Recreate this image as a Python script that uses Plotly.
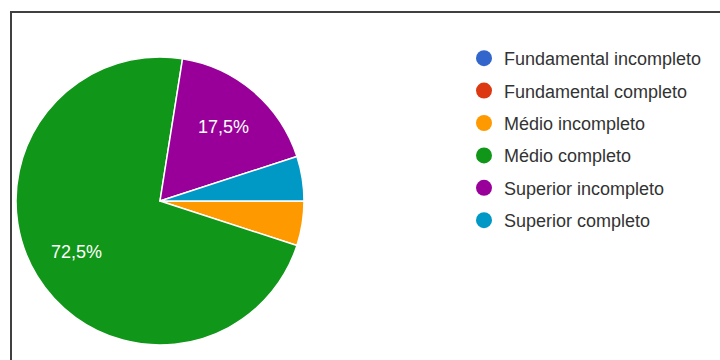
import math
import plotly.graph_objects as go

# Escolaridade dos respondentes
categorias = [
    "Fundamental incompleto",
    "Fundamental completo",
    "Médio incompleto",
    "Médio completo",
    "Superior incompleto",
    "Superior completo",
]
respostas = [0, 0, 2, 29, 7, 2]
cores = ["#3366CC", "#DC3912", "#FF9900", "#109618", "#990099", "#0099C6"]

W, H = 720, 360
cx, cy, r = 160, 201, 144  # pie centre / radius in px
inicio = 90                # first slice starts at 3 o'clock (deg clockwise from 12)
fonte = "Arial, Liberation Sans, sans-serif"

total = sum(respostas)

fig = go.Figure()
fig.add_trace(go.Pie(
    labels=categorias,
    values=respostas,
    textinfo="none",
    marker=dict(colors=cores, line=dict(color="white", width=1.5)),
    sort=False,
    direction="clockwise",
    rotation=inicio,
    showlegend=False,
    hoverinfo="label+percent",
    domain=dict(x=[(cx - r) / W, (cx + r) / W], y=[(H - cy - r) / H, (H - cy + r) / H]),
))

# Percentage labels for the larger slices, placed along each slice's mid-angle
anotacoes = []
acumulado = 0
for v in respostas:
    pct = v / total * 100
    meio = inicio + (acumulado + v / 2) / total * 360
    acumulado += v
    if pct < 10:
        continue
    a = math.radians(meio)
    px = cx + 0.68 * r * math.sin(a)
    py = cy - 0.68 * r * math.cos(a)
    anotacoes.append(dict(
        x=px / W, y=1 - py / H, xref="paper", yref="paper",
        xanchor="center", yanchor="middle",
        text=f"{pct:.1f}%".replace(".", ","), showarrow=False,
        font=dict(family=fonte, size=18, color="white"),
    ))

# Legend entries with round markers
for i, (nome, cor) in enumerate(zip(categorias, cores)):
    fig.add_trace(go.Scatter(
        x=[None], y=[None], mode="markers", name=nome,
        legendgroup=f"g{i}",
        marker=dict(symbol="circle", size=16, color=cor),
        hoverinfo="skip",
    ))

fig.update_layout(
    width=W, height=H,
    margin=dict(l=0, r=0, t=0, b=0),
    paper_bgcolor="white",
    plot_bgcolor="white",
    xaxis=dict(visible=False),
    yaxis=dict(visible=False),
    annotations=anotacoes,
    legend=dict(
        x=464 / W, y=1 - 40 / H, xanchor="left", yanchor="top",
        font=dict(family=fonte, size=18, color="#333333"),
        tracegroupgap=6,
        bgcolor="rgba(0,0,0,0)",
    ),
    shapes=[dict(
        type="rect", xref="paper", yref="paper",
        x0=11 / W, x1=1.05, y0=-0.05, y1=1 - 12 / H,
        line=dict(color="#404040", width=2),
        fillcolor="rgba(0,0,0,0)",
        layer="below",
    )],
)

fig.write_html("out.html")
